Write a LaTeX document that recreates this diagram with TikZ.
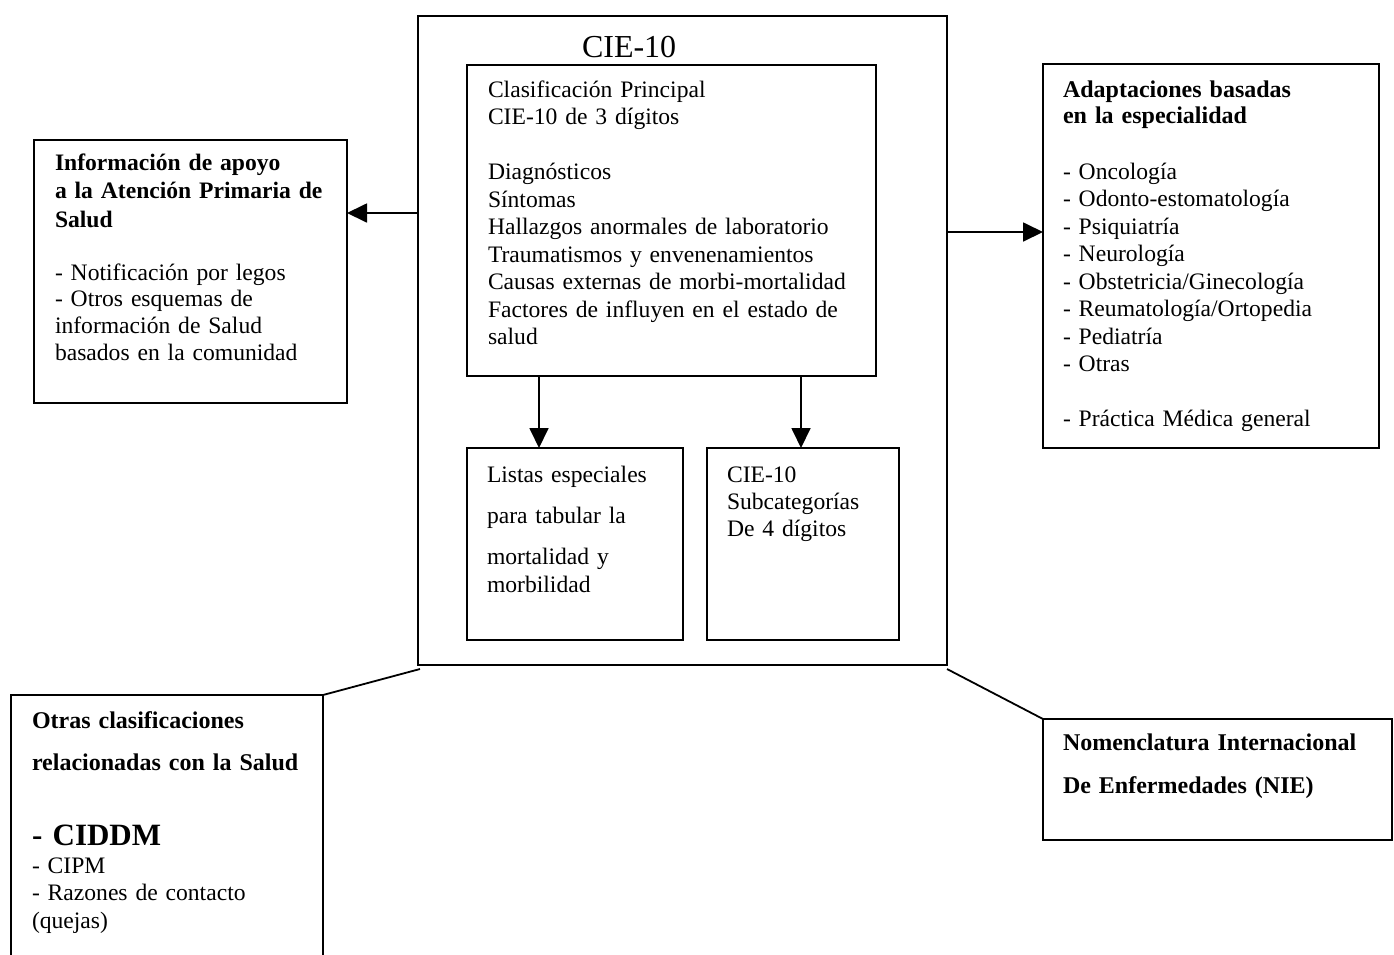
\documentclass[tikz,border=0pt]{standalone}
\usepackage{fontspec}
\setmainfont{Liberation Serif}
\usetikzlibrary{arrows.meta}
\begin{document}
\begin{tikzpicture}[x=1pt,y=-1pt,
  box/.style={draw, line width=1.8pt, anchor=north west, inner sep=0pt, outer sep=0pt},
  lbl/.style={anchor=base west, inner sep=0pt, outer sep=0pt, align=left, text width=#1},
  lbl/.default=400pt,
  body/.style={font=\fontsize{23.6}{27.5}\selectfont},
  bodyb/.style={font=\fontsize{24}{27.5}\selectfont\bfseries},
  arr/.style={line width=1.8pt, -{Triangle[length=20pt,width=19pt]}},
  link/.style={line width=1.8pt}]
\useasboundingbox (0,0) rectangle (1394,954);

% boxes
\node[box, minimum width=529pt, minimum height=649pt] (cie) at (418,16) {};
\node[box, minimum width=409pt, minimum height=311pt] (main) at (467,65) {};
\node[box, minimum width=216pt, minimum height=192pt] (listas) at (467,448) {};
\node[box, minimum width=192pt, minimum height=192pt] (sub) at (707,448) {};
\node[box, minimum width=313pt, minimum height=263pt] (apoyo) at (34,140) {};
\node[box, minimum width=336pt, minimum height=384pt] (adapt) at (1043,64) {};
\node[box, minimum width=349pt, minimum height=121pt] (nie) at (1043,719) {};
\coordinate (otrasTR) at (323,695);
\draw[line width=1.8pt] (11,958) |- (otrasTR) -- (323,958);

% connectors
\draw[arr] ([xshift=72pt]main.south west) -- ([xshift=72pt]listas.north west);
\draw[arr] ([xshift=334pt]main.south west) -- ([xshift=94pt]sub.north west);
\draw[arr] (cie.north west |- 0,213) -- (apoyo.north east |- 0,213);
\draw[arr] (cie.north east |- 0,232) -- (adapt.north west |- 0,232);
\draw[link] ([xshift=2pt,yshift=-4pt]cie.south west) -- (otrasTR);
\draw[link] ([yshift=-4pt]cie.south east) -- (nie.north west);

% texts
\node[lbl, font=\fontsize{32}{36}\selectfont] (tcie) at (582,57) {CIE-10};
\node[lbl, body] (tmain) at (488,97) {Clasificación Principal\\CIE-10 de 3 dígitos\\[27.5pt]Diagnósticos\\Síntomas\\Hallazgos anormales de laboratorio\\Traumatismos y envenenamientos\\Causas externas de morbi-mortalidad\\Factores de influyen en el estado de\\salud};
\node[lbl, body] (tlistas) at (487,482) {Listas especiales\\[13.5pt]para tabular la\\[13.5pt]mortalidad y\\[0.5pt]morbilidad};
\node[lbl, font=\fontsize{23.6}{27}\selectfont] (tsub) at (727,482) {CIE-10\\Subcategorías\\De 4 dígitos};
\node[lbl, font=\fontsize{23.6}{28.5}\selectfont\bfseries] (tapoyoh) at (55,170) {Información de apoyo\\a la Atención Primaria de\\Salud};
\node[lbl, font=\fontsize{23.6}{26.7}\selectfont] (tapoyo) at (55,280) {- Notificación por legos\\- Otros esquemas de\\información de Salud\\basados en la comunidad};
\node[lbl, font=\fontsize{24}{26}\selectfont\bfseries] (tadapth) at (1063,97) {Adaptaciones basadas\\en la especialidad};
\node[lbl, body] (tadapt) at (1063,179) {- Oncología\\- Odonto-estomatología\\- Psiquiatría\\- Neurología\\- Obstetricia/Ginecología\\- Reumatología/Ortopedia\\- Pediatría\\- Otras\\[27.5pt]- Práctica Médica general};
\node[lbl, bodyb] (totrash) at (32,728) {Otras clasificaciones\\[14.5pt]relacionadas con la Salud};
\node[lbl, font=\fontsize{31}{34}\selectfont\bfseries] (tciddm) at (32,845) {- CIDDM};
\node[lbl, body] (totras) at (32,873) {- CIPM\\- Razones de contacto\\(quejas)};
\node[lbl, bodyb] (tnie) at (1063,750) {Nomenclatura Internacional\\[15.5pt]De Enfermedades (NIE)};
\end{tikzpicture}
\end{document}
